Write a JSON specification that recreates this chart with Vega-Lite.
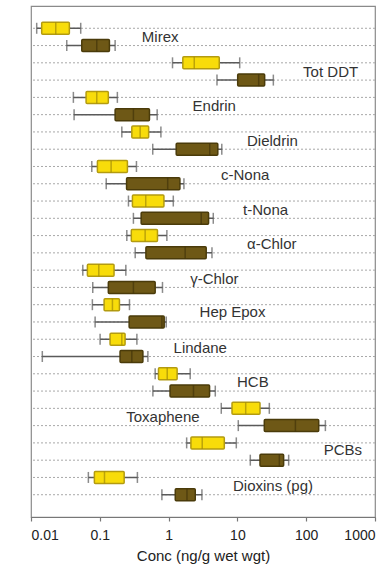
{
  "$schema": "https://vega.github.io/schema/vega-lite/v6.json",
  "width": 344,
  "height": 511,
  "autosize": {"type": "none"},
  "padding": {"left": 31, "top": 6, "right": 5, "bottom": 53},
  "background": "white",
  "config": {
    "font": "Liberation Sans",
    "view": {"stroke": "#8a8a8a", "strokeWidth": 1.2}
  },
  "datasets": {
    "boxes": [
      {"compound": "Mirex", "group": "A", "row": 1, "lo": 0.0121, "q1": 0.0143, "med": 0.0229, "q3": 0.0361, "hi": 0.0528},
      {"compound": "Mirex", "group": "B", "row": 2, "lo": 0.0331, "q1": 0.0547, "med": 0.0903, "q3": 0.138, "hi": 0.167},
      {"compound": "Tot DDT", "group": "A", "row": 3, "lo": 1.14, "q1": 1.61, "med": 2.36, "q3": 5.45, "hi": 10.8},
      {"compound": "Tot DDT", "group": "B", "row": 4, "lo": 5.05, "q1": 10.1, "med": 20.4, "q3": 24.9, "hi": 33.3},
      {"compound": "Endrin", "group": "A", "row": 5, "lo": 0.0413, "q1": 0.0632, "med": 0.0903, "q3": 0.133, "hi": 0.18},
      {"compound": "Endrin", "group": "B", "row": 6, "lo": 0.0423, "q1": 0.167, "med": 0.308, "q3": 0.527, "hi": 0.682},
      {"compound": "Dieldrin", "group": "A", "row": 7, "lo": 0.209, "q1": 0.292, "med": 0.386, "q3": 0.513, "hi": 0.773},
      {"compound": "Dieldrin", "group": "B", "row": 8, "lo": 0.588, "q1": 1.29, "med": 3.96, "q3": 5.19, "hi": 5.93},
      {"compound": "c-Nona", "group": "A", "row": 9, "lo": 0.0765, "q1": 0.0923, "med": 0.146, "q3": 0.252, "hi": 0.341},
      {"compound": "c-Nona", "group": "B", "row": 10, "lo": 0.124, "q1": 0.245, "med": 0.97, "q3": 1.46, "hi": 1.67},
      {"compound": "t-Nona", "group": "A", "row": 11, "lo": 0.261, "q1": 0.298, "med": 0.465, "q3": 0.855, "hi": 1.17},
      {"compound": "t-Nona", "group": "B", "row": 12, "lo": 0.308, "q1": 0.399, "med": 2.98, "q3": 3.81, "hi": 4.46},
      {"compound": "α-Chlor", "group": "A", "row": 13, "lo": 0.247, "q1": 0.287, "med": 0.456, "q3": 0.689, "hi": 0.944},
      {"compound": "α-Chlor", "group": "B", "row": 14, "lo": 0.327, "q1": 0.468, "med": 1.74, "q3": 3.52, "hi": 4.27},
      {"compound": "γ-Chlor", "group": "A", "row": 15, "lo": 0.0566, "q1": 0.066, "med": 0.0967, "q3": 0.161, "hi": 0.239},
      {"compound": "γ-Chlor", "group": "B", "row": 16, "lo": 0.079, "q1": 0.133, "med": 0.308, "q3": 0.638, "hi": 0.815},
      {"compound": "Hep Epox", "group": "A", "row": 17, "lo": 0.078, "q1": 0.1155, "med": 0.1526, "q3": 0.193, "hi": 0.27},
      {"compound": "Hep Epox", "group": "B", "row": 18, "lo": 0.0855, "q1": 0.267, "med": 0.799, "q3": 0.863, "hi": 0.923},
      {"compound": "Lindane", "group": "A", "row": 19, "lo": 0.101, "q1": 0.141, "med": 0.209, "q3": 0.233, "hi": 0.346},
      {"compound": "Lindane", "group": "B", "row": 20, "lo": 0.0146, "q1": 0.197, "med": 0.292, "q3": 0.423, "hi": 0.5},
      {"compound": "HCB", "group": "A", "row": 21, "lo": 0.638, "q1": 0.713, "med": 0.955, "q3": 1.33, "hi": 2.06},
      {"compound": "HCB", "group": "B", "row": 22, "lo": 0.591, "q1": 1.05, "med": 2.3, "q3": 3.94, "hi": 4.77},
      {"compound": "Toxaphene", "group": "A", "row": 23, "lo": 5.83, "q1": 8.35, "med": 13.2, "q3": 21.3, "hi": 29.1},
      {"compound": "Toxaphene", "group": "B", "row": 24, "lo": 10.3, "q1": 24.6, "med": 69.7, "q3": 152, "hi": 190},
      {"compound": "PCBs", "group": "A", "row": 25, "lo": 1.83, "q1": 2.11, "med": 3.08, "q3": 6.45, "hi": 9.64},
      {"compound": "PCBs", "group": "B", "row": 26, "lo": 15.4, "q1": 21.3, "med": 40.7, "q3": 47.0, "hi": 55.6},
      {"compound": "Dioxins (pg)", "group": "A", "row": 27, "lo": 0.0682, "q1": 0.0834, "med": 0.117, "q3": 0.226, "hi": 0.352},
      {"compound": "Dioxins (pg)", "group": "B", "row": 28, "lo": 0.799, "q1": 1.25, "med": 1.85, "q3": 2.44, "hi": 3.05}
    ],
    "labels": [
      {"label": "Mirex", "row": 1.5, "at": 0.408},
      {"label": "Tot DDT", "row": 3.55, "at": 90.2},
      {"label": "Endrin", "row": 5.5, "at": 2.23},
      {"label": "Dieldrin", "row": 7.5, "at": 13.8},
      {"label": "c-Nona", "row": 9.5, "at": 5.77},
      {"label": "t-Nona", "row": 11.5, "at": 12.1},
      {"label": "α-Chlor", "row": 13.5, "at": 13.8},
      {"label": "γ-Chlor", "row": 15.5, "at": 2.06},
      {"label": "Hep Epox", "row": 17.45, "at": 2.82},
      {"label": "Lindane", "row": 19.5, "at": 1.18},
      {"label": "HCB", "row": 21.5, "at": 9.87},
      {"label": "Toxaphene", "row": 23.5, "at": 0.242},
      {"label": "PCBs", "row": 25.4, "at": 180},
      {"label": "Dioxins (pg)", "row": 27.5, "at": 8.63}
    ]
  },
  "layer": [
    {
      "data": {"name": "boxes"},
      "mark": {"type": "rule", "color": "#a8a8a8", "strokeWidth": 1, "strokeDash": [2, 2]},
      "encoding": {
        "y": {
          "field": "row", "type": "quantitative", "title": null,
          "scale": {"domain": [0, 29], "reverse": true, "nice": false, "zero": false},
          "axis": null
        }
      }
    },
    {
      "data": {"name": "boxes"},
      "mark": {"type": "rule", "color": "#5a5a5a", "strokeWidth": 1.5},
      "encoding": {
        "y": {"field": "row", "type": "quantitative", "title": null},
        "x": {
          "field": "lo", "type": "quantitative", "title": "Conc (ng/g wet wgt)",
          "scale": {"type": "log", "domain": [0.01, 1000], "nice": false},
          "axis": {
            "values": [0.01, 0.1, 1, 10, 100, 1000], "format": "~g",
            "grid": false, "domainColor": "#777", "domainWidth": 1.2,
            "tickColor": "#777", "tickSize": 4, "tickWidth": 1.2,
            "labelFontSize": 14, "labelColor": "#222", "labelPadding": 7,
            "titleFontSize": 15, "titleColor": "#222", "titleFontWeight": "normal", "titlePadding": 6
          }
        },
        "x2": {"field": "hi"}
      }
    },
    {
      "data": {"name": "boxes"},
      "mark": {"type": "tick", "orient": "vertical", "size": 11, "thickness": 1.5, "color": "#5a5a5a"},
      "encoding": {
        "y": {"field": "row", "type": "quantitative", "title": null},
        "x": {"field": "lo", "type": "quantitative", "title": "Conc (ng/g wet wgt)"}
      }
    },
    {
      "data": {"name": "boxes"},
      "mark": {"type": "tick", "orient": "vertical", "size": 11, "thickness": 1.5, "color": "#5a5a5a"},
      "encoding": {
        "y": {"field": "row", "type": "quantitative", "title": null},
        "x": {"field": "hi", "type": "quantitative", "title": "Conc (ng/g wet wgt)"}
      }
    },
    {
      "data": {"name": "boxes"},
      "mark": {"type": "bar", "size": 12, "strokeWidth": 1.5, "cornerRadius": 1},
      "encoding": {
        "y": {"field": "row", "type": "quantitative", "title": null},
        "x": {"field": "q1", "type": "quantitative", "title": "Conc (ng/g wet wgt)"},
        "x2": {"field": "q3"},
        "fill": {"field": "group", "type": "nominal", "scale": {"domain": ["A", "B"], "range": ["#F8DC0A", "#6E5816"]}, "legend": null},
        "stroke": {"field": "group", "type": "nominal", "scale": {"domain": ["A", "B"], "range": ["#B39B10", "#4A3B0A"]}, "legend": null}
      }
    },
    {
      "data": {"name": "boxes"},
      "mark": {"type": "tick", "orient": "vertical", "size": 12, "thickness": 1.5},
      "encoding": {
        "y": {"field": "row", "type": "quantitative", "title": null},
        "x": {"field": "med", "type": "quantitative", "title": "Conc (ng/g wet wgt)"},
        "color": {"field": "group", "type": "nominal", "scale": {"domain": ["A", "B"], "range": ["#A38C08", "#43350A"]}, "legend": null}
      }
    },
    {
      "data": {"name": "labels"},
      "mark": {"type": "text", "align": "left", "baseline": "middle", "fontSize": 15, "color": "#333"},
      "encoding": {
        "y": {"field": "row", "type": "quantitative", "title": null},
        "x": {"field": "at", "type": "quantitative", "title": "Conc (ng/g wet wgt)"},
        "text": {"field": "label"}
      }
    }
  ]
}
